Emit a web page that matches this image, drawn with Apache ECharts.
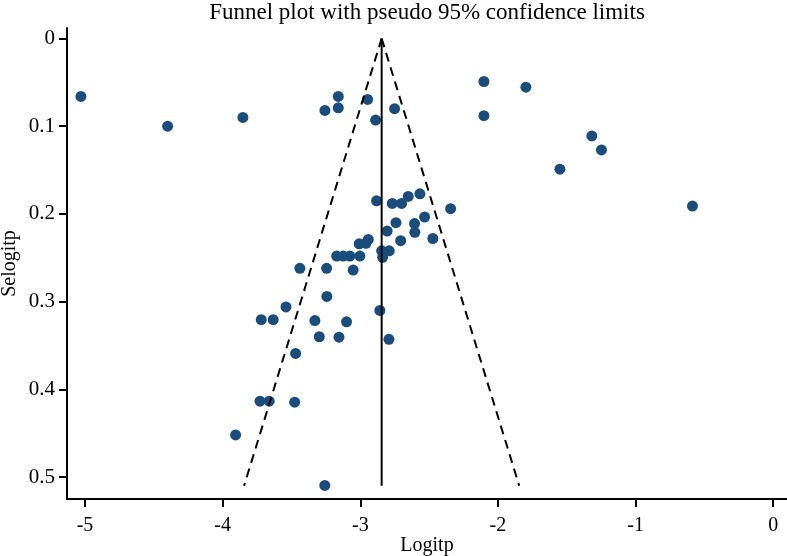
<!DOCTYPE html>
<html>
<head>
<meta charset="utf-8">
<script src="https://cdn.jsdelivr.net/npm/echarts@6/dist/echarts.min.js"></script>
<style>html,body{margin:0;padding:0;background:#fff;}#chart{width:787px;height:556px;}</style>
</head>
<body>
<div id="chart"></div>
<script>
// Study effect sizes (logit of proportion) and their standard errors
const logitp = [-5.03, -4.40, -3.853, -3.257, -3.16, -3.16, -2.947, -2.889, -2.751, -2.102,
  -2.102, -1.797, -1.318, -1.248, -1.55, -0.587, -2.882, -2.768, -2.70, -2.652,
  -2.567, -2.344, -2.533, -2.606, -2.741, -2.604, -2.805, -2.473, -2.707, -2.942,
  -2.959, -3.008, -2.845, -2.79, -2.838, -3.172, -3.124, -3.076, -3.003, -3.439,
  -3.245, -3.052, -3.243, -3.54, -3.72, -3.633, -3.330, -3.10, -2.858, -3.298,
  -3.155, -2.792, -3.47, -3.729, -3.662, -3.477, -3.906, -3.258];
const selogitp = [0.066, 0.100, 0.090, 0.082, 0.066, 0.079, 0.0695, 0.093, 0.080, 0.049,
  0.088, 0.0555, 0.111, 0.127, 0.149, 0.191, 0.185, 0.188, 0.188, 0.180,
  0.177, 0.194, 0.2035, 0.211, 0.210, 0.221, 0.2195, 0.228, 0.2305, 0.229,
  0.2335, 0.234, 0.242, 0.242, 0.2495, 0.248, 0.248, 0.248, 0.248, 0.262,
  0.262, 0.264, 0.294, 0.306, 0.3205, 0.3205, 0.3216, 0.323, 0.310, 0.340,
  0.3405, 0.343, 0.359, 0.4135, 0.4135, 0.4146, 0.452, 0.5095];
const xTicks = [-5, -4, -3, -2, -1, 0];
const yTicks = [0, 0.1, 0.2, 0.3, 0.4, 0.5];
const pooled = -2.845;   // pooled logit estimate
const seMax = 0.51;      // largest standard error drawn
const zCrit = 1.96;      // pseudo 95% limits

const pts = logitp.map((v, i) => [v, selogitp[i]]);
const centerLine = [[pooled, 0], [pooled, seMax]];
const leftLimit = [[pooled, 0], [pooled - zCrit * seMax, seMax]];
const rightLimit = [[pooled, 0], [pooled + zCrit * seMax, seMax]];

const FONT = '"Liberation Serif", "Times New Roman", serif';
const chart = echarts.init(document.getElementById('chart'));
chart.setOption({
  animation: false,
  backgroundColor: '#fff',
  title: {
    text: 'Funnel plot with pseudo 95% confidence limits',
    left: 422, top: -4, textAlign: 'center',
    textStyle: {fontFamily: FONT, fontWeight: 'normal', fontSize: 23, color: '#000'}
  },
  grid: {left: 67, right: 0, top: 28, bottom: 57, containLabel: false, outerBoundsMode: 'none'},
  xAxis: {
    type: 'value', min: -5.131, max: 0.1,
    name: 'Logitp', nameLocation: 'middle', nameGap: 37, nameMoveOverlap: false,
    nameTextStyle: {fontFamily: FONT, fontSize: 20, color: '#000'},
    axisLine: {onZero: false, lineStyle: {color: '#000', width: 2}},
    axisTick: {show: true, length: 8, lineStyle: {color: '#000', width: 2}, customValues: xTicks},
    axisLabel: {fontFamily: FONT, fontSize: 20, color: '#000', margin: 17, customValues: xTicks,
      formatter: v => String(v)},
    splitLine: {show: false}
  },
  yAxis: {
    type: 'value', inverse: true, min: -0.012, max: 0.525,
    name: 'Selogitp', nameLocation: 'middle', nameGap: 47, nameRotate: 90, nameMoveOverlap: false,
    nameTextStyle: {fontFamily: FONT, fontSize: 20, color: '#000'},
    axisLine: {onZero: false, lineStyle: {color: '#000', width: 2}},
    axisTick: {show: true, length: 8, lineStyle: {color: '#000', width: 2}, customValues: yTicks},
    axisLabel: {fontFamily: FONT, fontSize: 21, color: '#000', margin: 12, customValues: yTicks,
      formatter: v => String(v)},
    splitLine: {show: false}
  },
  series: [
    {type: 'line', data: leftLimit, symbol: 'none', silent: true,
      lineStyle: {color: '#000', width: 2, type: [9, 6]}},
    {type: 'line', data: rightLimit, symbol: 'none', silent: true,
      lineStyle: {color: '#000', width: 2, type: [9, 6]}},
    {type: 'line', data: centerLine, symbol: 'none', silent: true,
      lineStyle: {color: '#000', width: 2}},
    {type: 'scatter', data: pts, symbol: 'circle', symbolSize: 11,
      itemStyle: {color: '#1b4d7c', opacity: 1}}
  ]
});
</script>
</body>
</html>
